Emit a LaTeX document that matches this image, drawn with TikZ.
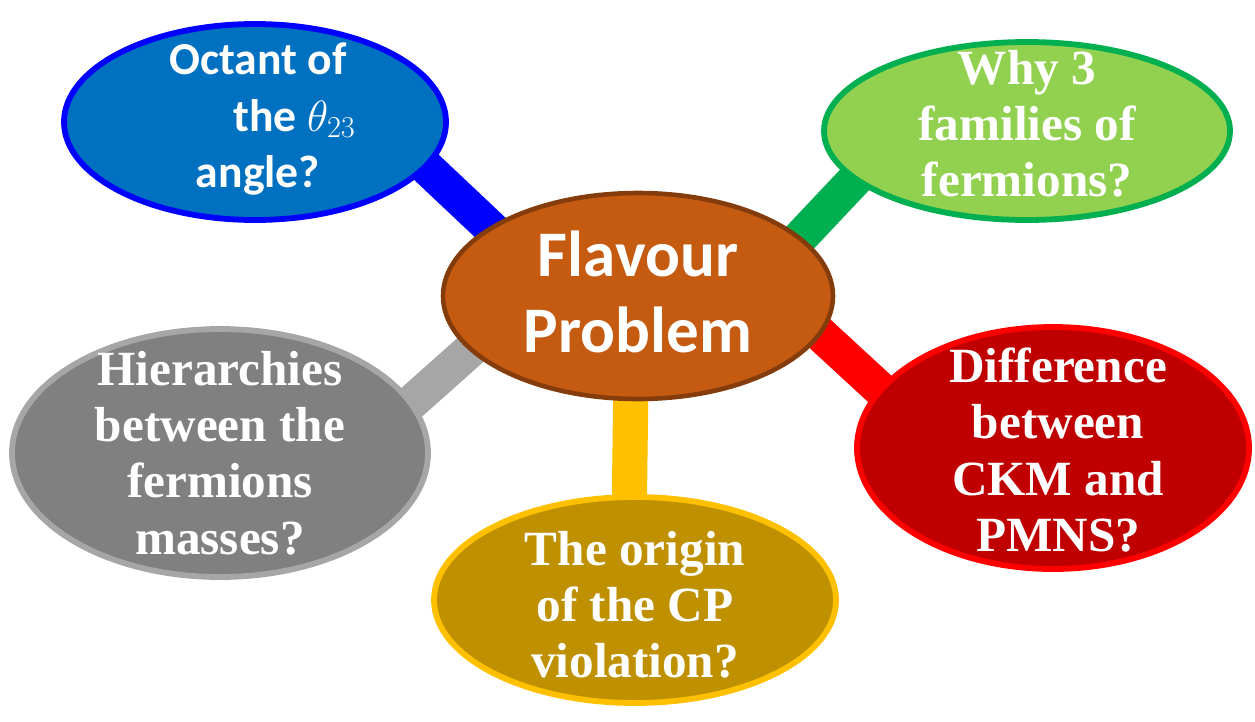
\documentclass[tikz,border=0pt]{standalone}
\usepackage{fontspec}
\usepackage{amsmath}
\setmainfont{Liberation Serif}
\newfontfamily\calibrifont{Carlito}
\usetikzlibrary{shapes.geometric,backgrounds}

\definecolor{flavFill}{HTML}{C55A11}
\definecolor{flavLine}{HTML}{843C0C}
\definecolor{blueFill}{HTML}{0070C0}
\definecolor{blueLine}{HTML}{0000FF}
\definecolor{greenFill}{HTML}{92D050}
\definecolor{greenLine}{HTML}{00B050}
\definecolor{redFill}{HTML}{C00000}
\definecolor{redLine}{HTML}{FF0000}
\definecolor{goldFill}{HTML}{BF9000}
\definecolor{goldLine}{HTML}{FFC000}
\definecolor{grayFill}{HTML}{808080}
\definecolor{grayLine}{HTML}{A6A6A6}

\begin{document}
\begin{tikzpicture}[x=0.2mm, y=0.2mm]
  \tikzstyle{every node}+=[inner sep=0pt]
  \tikzstyle{bubble}=[ellipse, draw, line width=3.3pt]
  \tikzstyle{bar}=[line width=20pt, shorten <=-12pt, shorten >=-12pt]
  \tikzstyle{qtext}=[text=white, align=center, font=\fontsize{28}{32}\selectfont\bfseries]
  \useasboundingbox (0,0) rectangle (1255,-721);
  \node [bubble, fill=flavFill, draw=flavLine, line width=2.6pt, minimum width=7.8cm, minimum height=4.12cm] (flav) at (638,-296) {};
  \node [bubble, fill=blueFill, draw=blueLine, minimum width=7.64cm, minimum height=3.92cm] (octant) at (255,-122) {};
  \node [bubble, fill=greenFill, draw=greenLine, minimum width=8.12cm, minimum height=3.56cm] (families) at (1027,-131) {};
  \node [bubble, fill=redFill, draw=redLine, minimum width=7.84cm, minimum height=4.84cm] (ckm) at (1053,-448) {};
  \node [bubble, fill=goldFill, draw=goldLine, minimum width=8.04cm, minimum height=4.12cm] (cpv) at (635,-600) {};
  \node [bubble, fill=grayFill, draw=grayLine, minimum width=8.32cm, minimum height=4.96cm] (hier) at (220,-453) {};
  \begin{scope}[on background layer]
    \draw [bar, draw=blueLine] (flav.155) -- (octant.-15);
    \draw [bar, draw=greenLine] (flav.20) -- (families.-164);
    \draw [bar, draw=redLine] (flav.-12) -- (ckm.161);
    \draw [bar, draw=goldLine] (flav.-94) -- (cpv.93);
    \draw [bar, draw=grayLine] (flav.-162) -- (hier.15);
  \end{scope}
  \node [text=white, align=center, font=\calibrifont\fontsize{37}{43}\selectfont\bfseries] (flavT) at (638,-292) {Flavour\\Problem};
  \node [text=white, align=center, font=\calibrifont\fontsize{26}{32}\selectfont\bfseries] (octantT) at (258,-119) {Octant of\\\hspace*{1.6em}the $\theta_{23}$\\angle?};
  \node [qtext] (familiesT) at (1027,-124) {Why 3\\families of\\fermions?};
  \node [qtext] (ckmT) at (1058,-450) {Difference\\between\\CKM and\\PMNS?};
  \node [qtext] (cpvT) at (635,-605) {The origin\\of the CP\\violation?};
  \node [qtext] (hierT) at (220,-453) {Hierarchies\\between the\\fermions\\masses?};
\end{tikzpicture}
\end{document}
